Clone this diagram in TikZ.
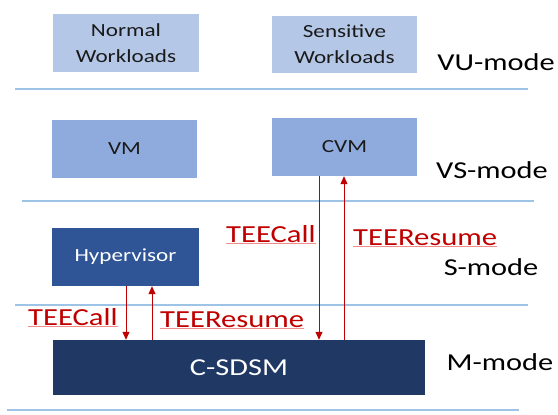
\documentclass[tikz,border=0pt]{standalone}
\usepackage{graphicx}
\usepackage{fontspec}
\setmainfont{Carlito}
\usetikzlibrary{arrows.meta}
\newcommand\sx[1]{\scalebox{1.25}[1]{#1}}
\definecolor{lightbox}{HTML}{B4C7E7}
\definecolor{midbox}{HTML}{8FAADC}
\definecolor{hypbox}{HTML}{2F5597}
\definecolor{darkbox}{HTML}{203864}
\definecolor{sepline}{HTML}{9DC3E6}
\definecolor{callred}{HTML}{C00000}
\definecolor{ulred}{HTML}{F08C8C}
\definecolor{boxtext}{HTML}{1A1A1A}
\begin{document}
\begin{tikzpicture}[x=1pt,y=-1pt,
  blk/.style={inner sep=0pt, align=center, font=\fontsize{18.5}{26}\selectfont},
  lightblk/.style={blk, fill=lightbox, text=boxtext, minimum width=146pt, minimum height=58pt},
  midblk/.style={blk, fill=midbox, text=boxtext, minimum width=146pt, minimum height=58pt},
  modelbl/.style={inner sep=0pt, font=\fontsize{24.3}{29}\selectfont, text=black},
  sep/.style={draw=sepline, line width=1.3pt},
  callarr/.style={draw=callred, line width=1pt, -{Triangle[length=8pt,width=7pt]}},
  calllbl/.style={inner sep=0pt, anchor=base west, text=callred, font=\fontsize{24.5}{29}\selectfont},
  ul/.style={draw=ulred, line width=0.8pt}
]
\useasboundingbox[fill=white] (0,0) rectangle (558,415);

% separator lines
\coordinate (l1a) at (15,89);  \coordinate (l1b) at (528,89);
\coordinate (l2a) at (22,201); \coordinate (l2b) at (534,201);
\coordinate (l3a) at (15,305); \coordinate (l3b) at (528,305);
\coordinate (l4a) at (7,410);  \coordinate (l4b) at (519,410);
\draw[sep] (l1a) -- (l1b);
\draw[sep] (l2a) -- (l2b);
\draw[sep] (l3a) -- (l3b);
\draw[sep] (l4a) -- (l4b);

% boxes
\node[lightblk] (nw) at (126,43) {\sx{Normal}\\\sx{Workloads}};
\node[lightblk, minimum width=145pt, minimum height=57pt] (sw) at (344.5,44.5) {\sx{Sensitive}\\\sx{Workloads}};
\node[midblk, minimum width=145pt] (vm) at (124.5,149) {\sx{VM}};
\node[midblk, minimum width=145pt] (cvm) at (344.5,147) {\sx{CVM}};
\node[blk, fill=hypbox, text=white, minimum width=147pt, minimum height=58pt] (hyp) at (125.5,257) {\sx{Hypervisor}};
\node[inner sep=0pt, fill=darkbox, text=white, minimum width=372pt, minimum height=55pt,
      font=\fontsize{24.3}{29}\selectfont] (sdsm) at (239,367.5) {\sx{C-SDSM}};

% mode labels
\node[modelbl] (vu) at (496,62) {\sx{VU-mode}};
\node[modelbl] (vs) at (492,170) {\sx{VS-mode}};
\node[modelbl] (sm) at (491,267) {\sx{S-mode}};
\node[modelbl] (mm) at (500,362) {\sx{M-mode}};

% arrows
\draw[callarr] (hyp.south -| 126,0) -- (sdsm.north -| 126,0);
\draw[callarr] (sdsm.north -| 152,0) -- (hyp.south -| 152,0);
\draw[callarr] (cvm.south -| 319,0) -- (sdsm.north -| 319,0);
\draw[callarr] (sdsm.north -| 344,0) -- (cvm.south -| 344,0);

% call labels
\node[calllbl] (tc1) at (28,325) {\sx{TEECall}};
\node[calllbl] (tr1) at (160,327) {\sx{TEEResume}};
\node[calllbl] (tc2) at (226,242) {\sx{TEECall}};
\node[calllbl] (tr2) at (353,245) {\sx{TEEResume}};
\draw[ul] ([yshift=-1.5pt]tc1.base west) -- ([yshift=-1.5pt]tc1.base east);
\draw[ul] ([yshift=-1.5pt]tr1.base west) -- ([yshift=-1.5pt]tr1.base east);
\draw[ul] ([yshift=-1.5pt]tc2.base west) -- ([yshift=-1.5pt]tc2.base east);
\draw[ul] ([yshift=-1.5pt]tr2.base west) -- ([yshift=-1.5pt]tr2.base east);
\end{tikzpicture}
\end{document}
